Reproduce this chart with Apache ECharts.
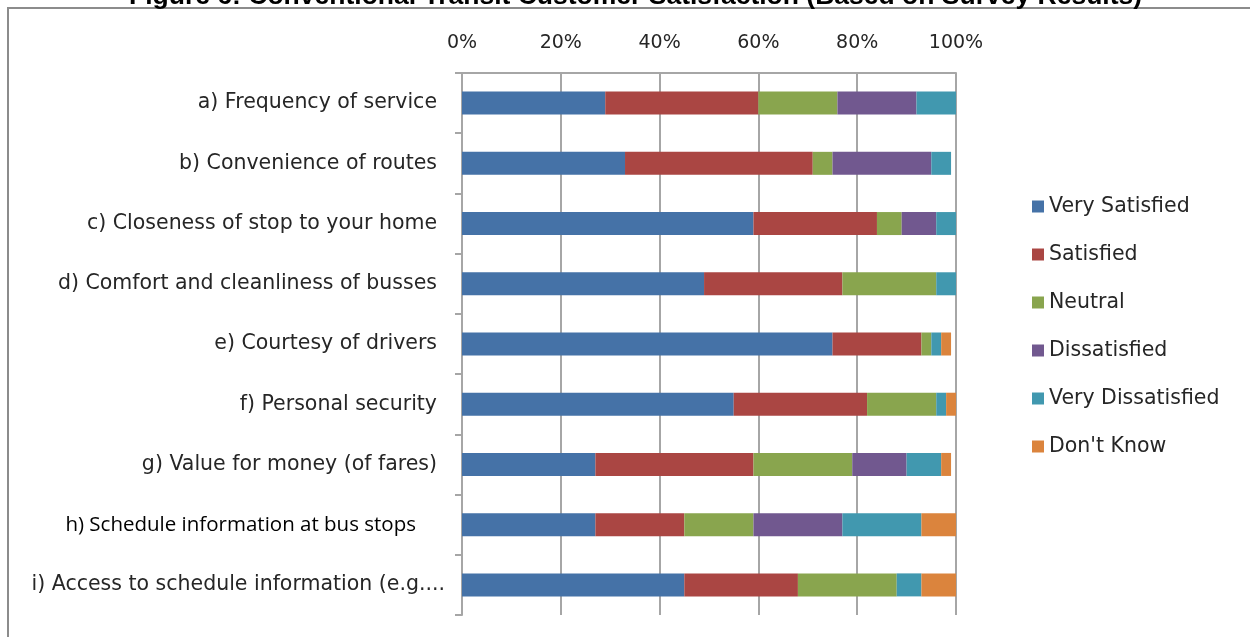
<!DOCTYPE html>
<html>
<head>
<meta charset="utf-8">
<script src="https://cdn.jsdelivr.net/npm/echarts@6/dist/echarts.min.js"></script>
<style>
html,body{margin:0;padding:0;background:#fff;}
#chart{width:1250px;height:637px;}
</style>
</head>
<body>
<div id="chart"></div>
<script>
const titleText = 'Figure 6: Conventional Transit Customer Satisfaction (Based on Survey Results)';
const categories = [
  'a) Frequency of service',
  'b) Convenience of routes',
  'c) Closeness of stop to your home',
  'd) Comfort and cleanliness of busses',
  'e) Courtesy of drivers',
  'f) Personal security',
  'g) Value for money (of fares)',
  'h) Schedule information at bus stops',
  'i) Access to schedule information (e.g....'
];
const seriesNames = ['Very Satisfied', 'Satisfied', 'Neutral', 'Dissatisfied', 'Very Dissatisfied', "Don't Know"];
const verySatisfied    = [29, 33, 59, 49, 75, 55, 27, 27, 45];
const satisfied        = [31, 38, 25, 28, 18, 27, 32, 18, 23];
const neutral          = [16,  4,  5, 19,  2, 14, 20, 14, 20];
const dissatisfied     = [16, 20,  7,  0,  0,  0, 11, 18,  0];
const veryDissatisfied = [ 8,  4,  4,  4,  2,  2,  7, 16,  5];
const dontKnow         = [ 0,  0,  0,  0,  2,  2,  2,  7,  7];
const xTicks = [0, 20, 40, 60, 80, 100];

const colors = ['#4572A7', '#AA4643', '#89A54E', '#71588F', '#4198AF', '#DB843D'];
const seriesData = [verySatisfied, satisfied, neutral, dissatisfied, veryDissatisfied, dontKnow];

const chart = echarts.init(document.getElementById('chart'), null, {renderer: 'canvas'});

const catData = categories.map((c, i) => {
  if (c.startsWith('h)')) {
    return {value: c, textStyle: {color: '#000', fontFamily: 'Open Sans', fontSize: 20.5, padding: [0, 29, 0, 0]}};
  }
  if (c.startsWith('i)')) {
    return {value: c, textStyle: {padding: [0, 0, 0, 0]}};
  }
  return c;
});

chart.setOption({
  animation: false,
  color: colors,
  title: {
    text: titleText,
    left: 124,
    top: -22,
    textStyle: {fontFamily: 'Liberation Sans', fontWeight: 'bold', fontSize: 26.5, color: '#000'}
  },
  graphic: [{
    type: 'rect',
    shape: {x: 8, y: 8, width: 1400, height: 800},
    style: {fill: 'none', stroke: '#8c8c8c', lineWidth: 2},
    silent: true,
    z: -10
  }],
  legend: {
    orient: 'vertical',
    left: 1027,
    top: 191,
    itemWidth: 12,
    itemHeight: 12,
    itemGap: 27,
    icon: 'rect',
    data: seriesNames,
    textStyle: {fontFamily: 'DejaVu Sans', fontSize: 20.5, color: '#262626', lineHeight: 20}
  },
  grid: {left: 462, right: 294, top: 73, bottom: 22, containLabel: false},
  xAxis: {
    type: 'value',
    position: 'top',
    min: 0,
    max: 100,
    interval: 20,
    axisLine: {show: true, lineStyle: {color: '#a6a6a6', width: 2}},
    axisTick: {show: false},
    axisLabel: {
      margin: 20,
      formatter: v => xTicks.includes(v) ? v + '%' : '',
      fontFamily: 'DejaVu Sans',
      fontSize: 19,
      color: '#262626'
    },
    splitLine: {show: true, lineStyle: {color: '#a6a6a6', width: 2}}
  },
  yAxis: {
    type: 'category',
    inverse: true,
    data: catData,
    axisLine: {show: true, lineStyle: {color: '#a6a6a6', width: 2}},
    axisTick: {show: true, length: 7, lineStyle: {color: '#a6a6a6', width: 2}},
    axisLabel: {
      margin: 17,
      padding: [0, 8, 0, 0],
      fontFamily: 'DejaVu Sans',
      fontSize: 20.5,
      color: '#262626'
    }
  },
  series: seriesNames.map((name, i) => ({
    name: name,
    type: 'bar',
    stack: 'total',
    barWidth: 23,
    data: seriesData[i],
    itemStyle: {color: colors[i]}
  }))
});
</script>
</body>
</html>
